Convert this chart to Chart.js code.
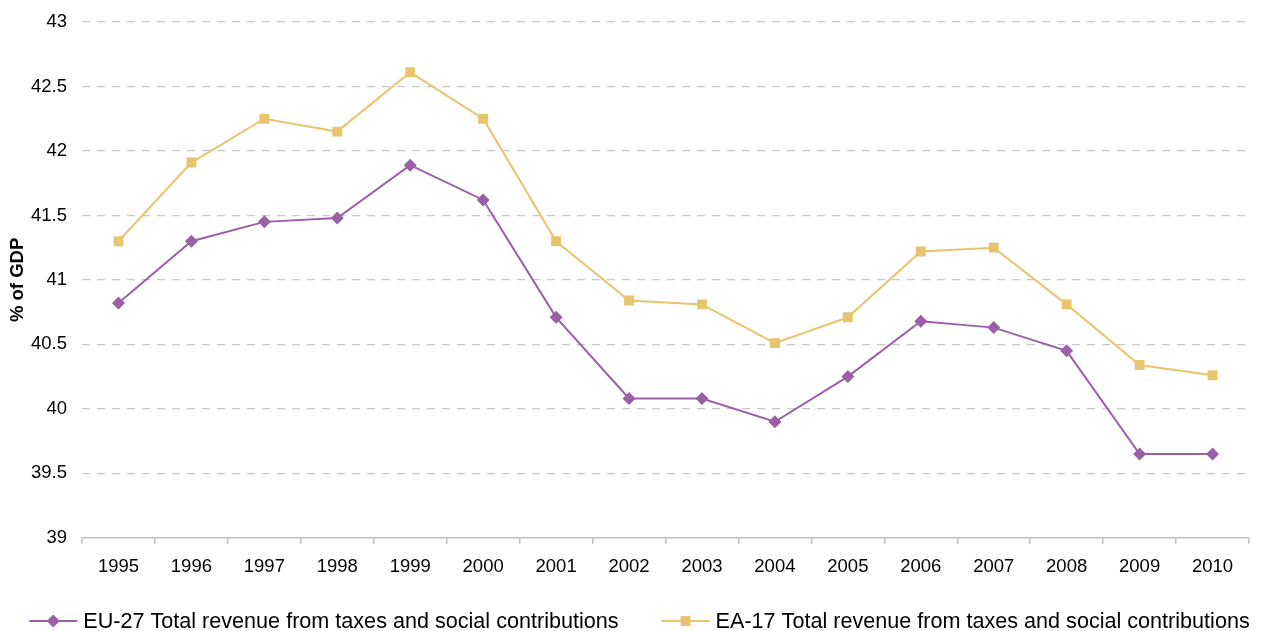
<!DOCTYPE html>
<html>
<head>
<meta charset="utf-8">
<script src="https://cdn.jsdelivr.net/npm/chart.js@4/dist/chart.umd.min.js"></script>
<style>
  html, body { margin: 0; padding: 0; background: #ffffff; }
  #wrap { position: relative; width: 1263px; height: 631px; }
</style>
</head>
<body>
<div id="wrap"><canvas id="chart"></canvas></div>
<script>
// Total revenue from taxes and social contributions, % of GDP
const years = ['1995','1996','1997','1998','1999','2000','2001','2002','2003','2004','2005','2006','2007','2008','2009','2010'];
const eu27 = [40.82, 41.30, 41.45, 41.48, 41.89, 41.62, 40.71, 40.08, 40.08, 39.90, 40.25, 40.68, 40.63, 40.45, 39.65, 39.65];
const ea17 = [41.30, 41.91, 42.25, 42.15, 42.61, 42.25, 41.30, 40.84, 40.81, 40.51, 40.71, 41.22, 41.25, 40.81, 40.34, 40.26];
const seriesNames = ['EU-27 Total revenue from taxes and social contributions', 'EA-17 Total revenue from taxes and social contributions'];
const yMin = 39, yMax = 43, yStep = 0.5;

const purple = '#9b5fa8';
const gold = '#e8c46e';
const gridGrey = '#c8c8c8';
const axisGrey = '#bfbfbf';
const font = '"Liberation Sans", Arial, sans-serif';

// Bottom legend: each entry is a short line with the series marker, then its label
const lineLegend = {
  id: 'lineLegend',
  afterDraw(chart) {
    const ctx = chart.ctx;
    const sets = chart.data.datasets;
    const fontSize = 21.6;
    const swatchW = 48, textGap = 6, itemGap = 43;
    const y = chart.height - 10;
    ctx.save();
    ctx.font = fontSize + 'px ' + font;
    const widths = sets.map(ds => swatchW + textGap + ctx.measureText(ds.label).width);
    const total = widths.reduce((a, b) => a + b, 0) + itemGap * (sets.length - 1);
    let x = (chart.width - total) / 2 + 8;
    sets.forEach((ds, i) => {
      ctx.strokeStyle = ds.borderColor;
      ctx.lineWidth = 2;
      ctx.beginPath();
      ctx.moveTo(x, y); ctx.lineTo(x + swatchW, y);
      ctx.stroke();
      ctx.fillStyle = ds.backgroundColor;
      ctx.strokeStyle = ds.backgroundColor;
      Chart.helpers.drawPoint(ctx, {
        pointStyle: ds.pointStyle,
        radius: ds.pointRadius,
        rotation: 0,
        borderWidth: 0
      }, x + swatchW / 2, y);
      ctx.fillStyle = '#000000';
      ctx.textBaseline = 'middle';
      ctx.textAlign = 'left';
      ctx.fillText(ds.label, x + swatchW + textGap, y + 1);
      x += widths[i] + itemGap;
    });
    ctx.restore();
  }
};

new Chart(document.getElementById('chart'), {
  type: 'line',
  data: {
    labels: years,
    datasets: [
      {
        label: seriesNames[0],
        data: eu27,
        borderColor: purple,
        backgroundColor: purple,
        borderWidth: 2,
        pointStyle: 'rectRot',
        pointRadius: 6.5,
        pointHoverRadius: 6.5,
        pointBorderWidth: 0,
        tension: 0
      },
      {
        label: seriesNames[1],
        data: ea17,
        borderColor: gold,
        backgroundColor: gold,
        borderWidth: 2,
        pointStyle: 'rect',
        pointRadius: 7,
        pointHoverRadius: 7,
        pointBorderWidth: 0,
        tension: 0
      }
    ]
  },
  plugins: [lineLegend],
  options: {
    responsive: true,
    maintainAspectRatio: false,
    animation: false,
    layout: { padding: { left: 0, right: 14, top: 22, bottom: 41 } },
    scales: {
      x: {
        type: 'category',
        offset: true,
        grid: {
          offset: true,
          drawOnChartArea: false,
          drawTicks: true,
          tickLength: 6,
          color: axisGrey,
          lineWidth: 1.5
        },
        border: { display: true, color: axisGrey, width: 1.5 },
        ticks: {
          color: '#000000',
          padding: 12,
          maxRotation: 0,
          autoSkip: false,
          font: { family: font, size: 18.5 }
        }
      },
      y: {
        min: yMin,
        max: yMax,
        afterFit: (scale) => { scale.width = 82; },
        ticks: {
          stepSize: yStep,
          color: '#000000',
          padding: 0,
          font: { family: font, size: 18.5 },
          callback: (v) => Number(v).toString()
        },
        grid: {
          drawTicks: true,
          tickLength: 15,
          tickColor: 'rgba(0,0,0,0)',
          color: (ctx) => (ctx.tick && ctx.tick.value === yMin) ? 'rgba(0,0,0,0)' : gridGrey,
          lineWidth: 1.2
        },
        border: { display: false, dash: [8, 7] },
        title: {
          display: true,
          text: '% of GDP',
          color: '#000000',
          padding: { top: 7, bottom: 4 },
          font: { family: font, size: 18.5, weight: 'bold' }
        }
      }
    },
    plugins: {
      tooltip: { enabled: false },
      legend: { display: false }
    }
  }
});
</script>
</body>
</html>
